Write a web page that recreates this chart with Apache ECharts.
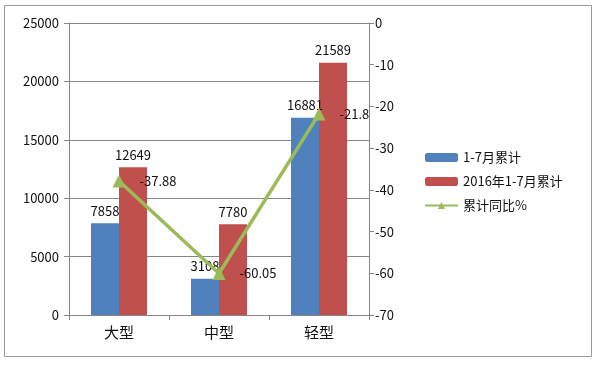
<!DOCTYPE html>
<html><head><meta charset="utf-8">
<script src="https://cdn.jsdelivr.net/npm/echarts@6/dist/echarts.min.js"></script>
<style>html,body{margin:0;padding:0;background:#fff}#c{width:600px;height:366px}</style>
</head><body><div id="c"></div>
<script>
const categories = ['大型', '中型', '轻型'];
const cum2017 = [7858, 3108, 16881];
const cum2016 = [12649, 7780, 21589];
const yoy = [-37.88, -60.05, -21.8];
const seriesNames = ['1-7月累计', '2016年1-7月累计', '累计同比%'];
const font = '"Microsoft YaHei","Noto Sans CJK SC",sans-serif';

const chart = echarts.init(document.getElementById('c'), null, {renderer: 'canvas'});
chart.setOption({
  animation: false,
  backgroundColor: '#fff',
  textStyle: {fontFamily: font},
  graphic: [{type: 'rect', shape: {x: 4.5, y: 5.5, width: 587, height: 351}, style: {fill: 'none', stroke: '#9a9a9a', lineWidth: 1}}],
  grid: {left: 69, right: 231, top: 23, bottom: 51},
  legend: {
    orient: 'vertical', left: 419, top: 146, itemWidth: 33, itemHeight: 9, itemGap: 11,
    textStyle: {fontSize: 13, color: '#111', fontFamily: font},
    data: seriesNames
  },
  xAxis: {
    type: 'category', data: categories,
    axisLine: {lineStyle: {color: '#868686'}},
    axisTick: {show: true, length: 5, lineStyle: {color: '#868686'}},
    axisLabel: {fontSize: 15, color: '#111', margin: 10}
  },
  yAxis: [{
    type: 'value', min: 0, max: 25000, interval: 5000,
    axisLine: {show: true, lineStyle: {color: '#868686'}},
    axisTick: {show: true, length: 5, lineStyle: {color: '#868686'}},
    splitLine: {lineStyle: {color: '#868686'}},
    axisLabel: {fontSize: 13, color: '#111', margin: 10, formatter: v => String(v)}
  }, {
    type: 'value', min: -70, max: 0, interval: 10, position: 'right',
    axisLine: {show: true, lineStyle: {color: '#868686'}},
    axisTick: {show: true, length: 5, lineStyle: {color: '#868686'}},
    splitLine: {show: false},
    axisLabel: {fontSize: 13, color: '#111', margin: 6, formatter: v => String(v)}
  }],
  series: [{
    name: seriesNames[0], type: 'bar', data: cum2017, barGap: 0, barCategoryGap: '44%',
    itemStyle: {color: '#4F81BD'},
    label: {show: true, position: 'top', fontSize: 13, color: '#111', distance: 6}
  }, {
    name: seriesNames[1], type: 'bar', data: cum2016,
    itemStyle: {color: '#C0504D'},
    label: {show: true, position: 'top', fontSize: 13, color: '#111', distance: 6}
  }, {
    name: seriesNames[2], type: 'line', yAxisIndex: 1, data: yoy,
    symbol: 'triangle', symbolSize: 13,
    lineStyle: {color: '#9BBB59', width: 3.5},
    itemStyle: {color: '#9BBB59'},
    label: {show: true, position: 'right', fontSize: 13, color: '#111', distance: 14}
  }]
});
</script></body></html>
